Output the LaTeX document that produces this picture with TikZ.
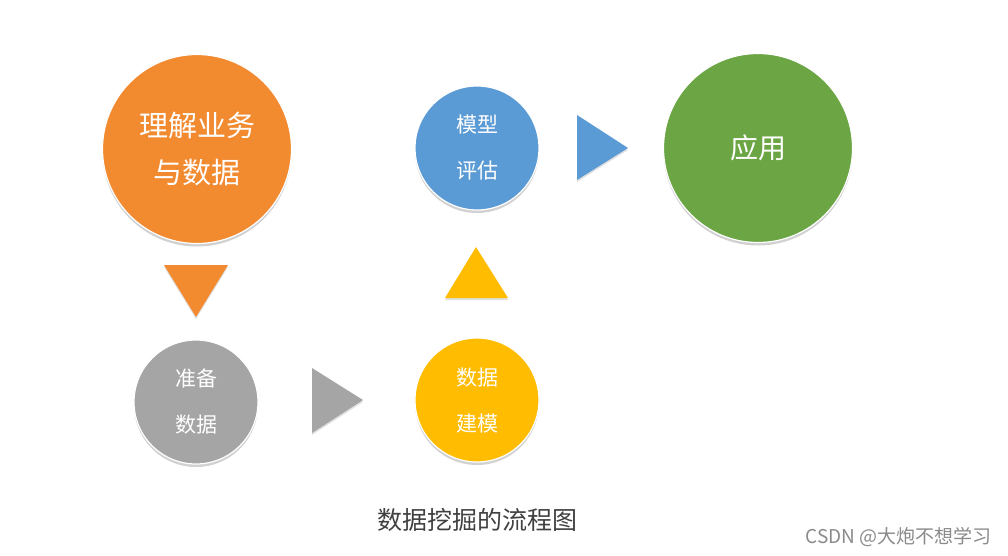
\documentclass[tikz,border=0pt]{standalone}
\usepackage{fontspec}
\setmainfont{Noto Sans CJK SC}
\usetikzlibrary{shadows}
\definecolor{corange}{HTML}{F28A30}
\definecolor{cgray}{HTML}{A5A5A5}
\definecolor{cyellow}{HTML}{FFBC00}
\definecolor{cblue}{HTML}{5B9BD5}
\definecolor{cgreen}{HTML}{6BA544}
\definecolor{ccaption}{HTML}{404040}
\definecolor{cmark}{HTML}{8A8A8A}
\begin{document}
\begin{tikzpicture}[x=1pt,y=-1pt,
  bubble/.style={circle, draw=white, line width=1.2pt, text=white, align=center,
    inner sep=0pt, drop shadow={shadow xshift=0pt, shadow yshift=-3pt, opacity=.18, fill=black}},
  bigbubble/.style={bubble, minimum size=189pt, font=\fontsize{29}{47}\selectfont},
  smallbubble/.style={bubble, minimum size=124pt, font=\fontsize{21}{46}\selectfont},
  marker/.style={drop shadow={shadow xshift=0pt, shadow yshift=-2pt, opacity=.12, fill=black}}
]
\useasboundingbox (0,0) rectangle (1008,555);
\node[bigbubble, fill=corange] (understand) at (197,149) {理解业务\\与数据};
\node[smallbubble, fill=cgray] (prepare) at (196,402) {准备\\数据};
\node[smallbubble, fill=cyellow] (model) at (477,400) {数据\\建模};
\node[smallbubble, fill=cblue] (evaluate) at (477,148) {模型\\评估};
\node[bigbubble, fill=cgreen, font=\fontsize{28}{34}\selectfont] (apply) at (758,148) {应用};
% direction markers
\fill[corange, marker] (164,265) -- (228,265) -- (196,317) -- cycle;
\fill[cgray, marker] (312,368) -- (363,400) -- (312,433) -- cycle;
\fill[cyellow, marker] (445,298) -- (508,298) -- (476,247) -- cycle;
\fill[cblue, marker] (577,115) -- (628,148) -- (577,180) -- cycle;
\node[text=ccaption, font=\fontsize{25}{30}\selectfont] (caption) at (477,520) {数据挖掘的流程图};
\node[text=cmark, font=\fontsize{19}{22}\selectfont, anchor=east] (mark) at (995,537) {CSDN @大炮不想学习};
\end{tikzpicture}
\end{document}
